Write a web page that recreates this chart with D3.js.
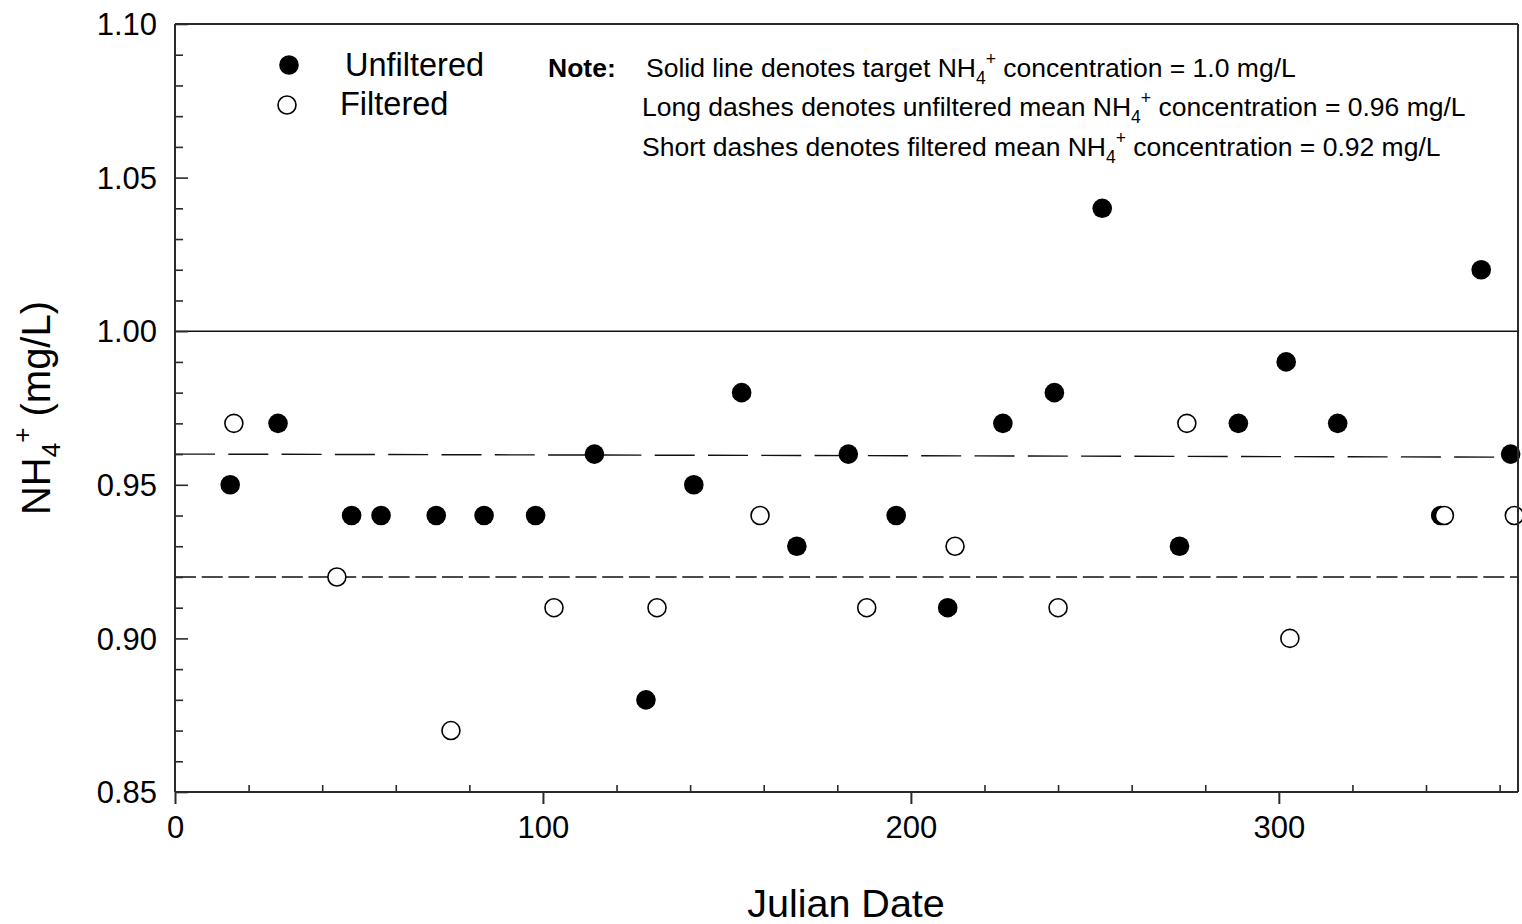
<!DOCTYPE html>
<html>
<head>
<meta charset="utf-8">
<script src="https://cdn.jsdelivr.net/npm/d3@7"></script>
<style>
  html, body { margin: 0; padding: 0; background: #fff; }
  svg { display: block; font-family: "Liberation Sans", Arial, Helvetica, sans-serif; }
</style>
</head>
<body>
<svg id="chart" width="1522" height="924"></svg>
<script>
// NH4+ concentration by Julian date, unfiltered vs filtered samples
const unfilteredDay  = [15, 28, 48, 56, 71, 84, 98, 114, 128, 141, 154, 169, 183, 196, 210, 225, 239, 252, 273, 289, 302, 316, 344, 355, 363];
const unfilteredConc = [0.95, 0.97, 0.94, 0.94, 0.94, 0.94, 0.94, 0.96, 0.88, 0.95, 0.98, 0.93, 0.96, 0.94, 0.91, 0.97, 0.98, 1.04, 0.93, 0.97, 0.99, 0.97, 0.94, 1.02, 0.96];

const filteredDay  = [16, 44, 75, 103, 131, 159, 188, 212, 240, 275, 303, 345, 364];
const filteredConc = [0.97, 0.92, 0.87, 0.91, 0.91, 0.94, 0.91, 0.93, 0.91, 0.97, 0.90, 0.94, 0.94];

// reference lines (value at day 0 and at day 365)
const targetLine         = [1.00, 1.00];
const unfilteredMeanLine = [0.960, 0.959];
const filteredMeanLine   = [0.920, 0.920];

const xDomain = [0, 365];
const yDomain = [0.85, 1.10];
const xMajorTicks = [0, 100, 200, 300];
const xMinorTicks = [20, 40, 60, 80, 120, 140, 160, 180, 220, 240, 260, 280, 320, 340, 360];
const yMajorTicks = [0.85, 0.90, 0.95, 1.00, 1.05, 1.10];
const yMinorTicks = [0.86, 0.87, 0.88, 0.89, 0.91, 0.92, 0.93, 0.94, 0.96, 0.97, 0.98, 0.99, 1.01, 1.02, 1.03, 1.04, 1.06, 1.07, 1.08, 1.09];

(function draw() {
  const svg = d3.select("#chart");
  const pLeft = 175, pRight = 1518, pTop = 24, pBottom = 792;

  const x = d3.scaleLinear().domain(xDomain).range([pLeft, pRight]);
  const y = d3.scaleLinear().domain(yDomain).range([pBottom, pTop]);

  const ink = "#000";
  const axisInk = "#2a2a2a";

  // reference lines
  function refLine(vals, dash) {
    svg.append("line")
      .attr("x1", x(xDomain[0])).attr("x2", x(xDomain[1]))
      .attr("y1", y(vals[0])).attr("y2", y(vals[1]))
      .attr("stroke", "#111").attr("stroke-width", 1.4)
      .attr("stroke-dasharray", dash);
  }
  refLine(targetLine, null);
  refLine(unfilteredMeanLine, "40,13.3");
  refLine(filteredMeanLine, "21,5.7");

  // data points
  const r = 9.8;
  svg.append("g").selectAll("circle")
    .data(d3.zip(unfilteredDay, unfilteredConc))
    .join("circle")
    .attr("cx", d => x(d[0])).attr("cy", d => y(d[1]))
    .attr("r", r).attr("fill", ink);

  svg.append("g").selectAll("circle")
    .data(d3.zip(filteredDay, filteredConc))
    .join("circle")
    .attr("cx", d => x(d[0])).attr("cy", d => y(d[1]))
    .attr("r", r - 0.8).attr("fill", "#fff")
    .attr("stroke", ink).attr("stroke-width", 1.6);

  // frame
  svg.append("line").attr("x1", pLeft).attr("x2", pRight).attr("y1", pTop).attr("y2", pTop)
    .attr("stroke", axisInk).attr("stroke-width", 2);
  svg.append("line").attr("x1", pRight).attr("x2", pRight).attr("y1", pTop).attr("y2", pBottom)
    .attr("stroke", axisInk).attr("stroke-width", 2);

  // x axis: major ticks outward, minor ticks inward
  const xAxisMajor = d3.axisBottom(x).tickValues(xMajorTicks).tickSize(12).tickPadding(12)
    .tickFormat(d3.format("d"));
  const gx = svg.append("g").attr("transform", `translate(0,${pBottom})`).call(xAxisMajor);
  gx.select(".domain").remove();
  gx.selectAll(".tick line").attr("stroke", axisInk).attr("stroke-width", 2);
  gx.selectAll(".tick text").attr("font-size", 31).attr("fill", ink)
    .attr("font-family", "Liberation Sans, Arial, sans-serif");

  const xAxisMinor = d3.axisTop(x).tickValues(xMinorTicks).tickSize(7).tickFormat("");
  const gxm = svg.append("g").attr("transform", `translate(0,${pBottom})`).call(xAxisMinor);
  gxm.select(".domain").remove();
  gxm.selectAll(".tick line").attr("stroke", axisInk).attr("stroke-width", 1.6);

  // y axis: ticks inward
  const yAxisMajor = d3.axisRight(y).tickValues(yMajorTicks).tickSize(13).tickFormat("");
  const gy = svg.append("g").attr("transform", `translate(${pLeft},0)`).call(yAxisMajor);
  gy.select(".domain").remove();
  gy.selectAll(".tick line").attr("stroke", axisInk).attr("stroke-width", 1.6);

  const yAxisMinor = d3.axisRight(y).tickValues(yMinorTicks).tickSize(8).tickFormat("");
  const gym = svg.append("g").attr("transform", `translate(${pLeft},0)`).call(yAxisMinor);
  gym.select(".domain").remove();
  gym.selectAll(".tick line").attr("stroke", axisInk).attr("stroke-width", 1.6);

  // y tick labels
  svg.append("g").selectAll("text")
    .data(yMajorTicks).join("text")
    .attr("x", pLeft - 18).attr("y", d => y(d))
    .attr("dy", "0.36em")
    .attr("text-anchor", "end").attr("font-size", 31).attr("fill", ink)
    .text(d => d3.format(".2f")(d));

  // axis lines
  svg.append("line").attr("x1", pLeft).attr("x2", pRight).attr("y1", pBottom).attr("y2", pBottom)
    .attr("stroke", axisInk).attr("stroke-width", 2);
  svg.append("line").attr("x1", pLeft).attr("x2", pLeft).attr("y1", pTop).attr("y2", pBottom)
    .attr("stroke", axisInk).attr("stroke-width", 2);

  // axis titles
  svg.append("text")
    .attr("x", 846).attr("y", 917)
    .attr("text-anchor", "middle").attr("font-size", 39.5).attr("fill", ink)
    .text("Julian Date");

  const yt = svg.append("text")
    .attr("transform", `translate(50,408) rotate(-90)`)
    .attr("text-anchor", "middle").attr("font-size", 40).attr("fill", ink);
  yt.append("tspan").text("NH");
  yt.append("tspan").attr("font-size", 26).attr("dy", 10).text("4");
  yt.append("tspan").attr("font-size", 26).attr("dy", -29).text("+");
  yt.append("tspan").attr("dy", 19).text(" (mg/L)");

  // legend
  const legendRows = [
    { label: "Unfiltered", filled: true,  cx: 289, cy: 65, tx: 345, ty: 76 },
    { label: "Filtered",   filled: false, cx: 287, cy: 105, tx: 340, ty: 115 }
  ];
  legendRows.forEach(d => {
    svg.append("circle").attr("cx", d.cx).attr("cy", d.cy).attr("r", d.filled ? r : r - 0.8)
      .attr("fill", d.filled ? ink : "#fff").attr("stroke", d.filled ? null : ink)
      .attr("stroke-width", d.filled ? null : 1.6);
    svg.append("text").attr("x", d.tx).attr("y", d.ty).attr("font-size", 32.5).attr("fill", ink)
      .text(d.label);
  });

  // note block
  const noteSize = 26.5, subSize = 17.5;
  svg.append("text").attr("x", 548).attr("y", 77).attr("font-size", noteSize)
    .attr("font-weight", "bold").attr("fill", ink).text("Note:");

  const noteLines = [
    { x: 646, y: 77,  pre: "Solid line denotes target NH", post: " concentration = 1.0 mg/L" },
    { x: 642, y: 116, pre: "Long dashes denotes unfiltered mean NH", post: " concentration = 0.96 mg/L" },
    { x: 642, y: 156, pre: "Short dashes denotes filtered mean NH", post: " concentration = 0.92 mg/L" }
  ];
  noteLines.forEach(d => {
    const t = svg.append("text").attr("x", d.x).attr("y", d.y)
      .attr("font-size", noteSize).attr("fill", ink);
    t.append("tspan").text(d.pre);
    t.append("tspan").attr("font-size", subSize).attr("dy", 7).text("4");
    t.append("tspan").attr("font-size", subSize).attr("dy", -19).text("+");
    t.append("tspan").attr("dy", 12).text(d.post);
  });
})();
</script>
</body>
</html>
